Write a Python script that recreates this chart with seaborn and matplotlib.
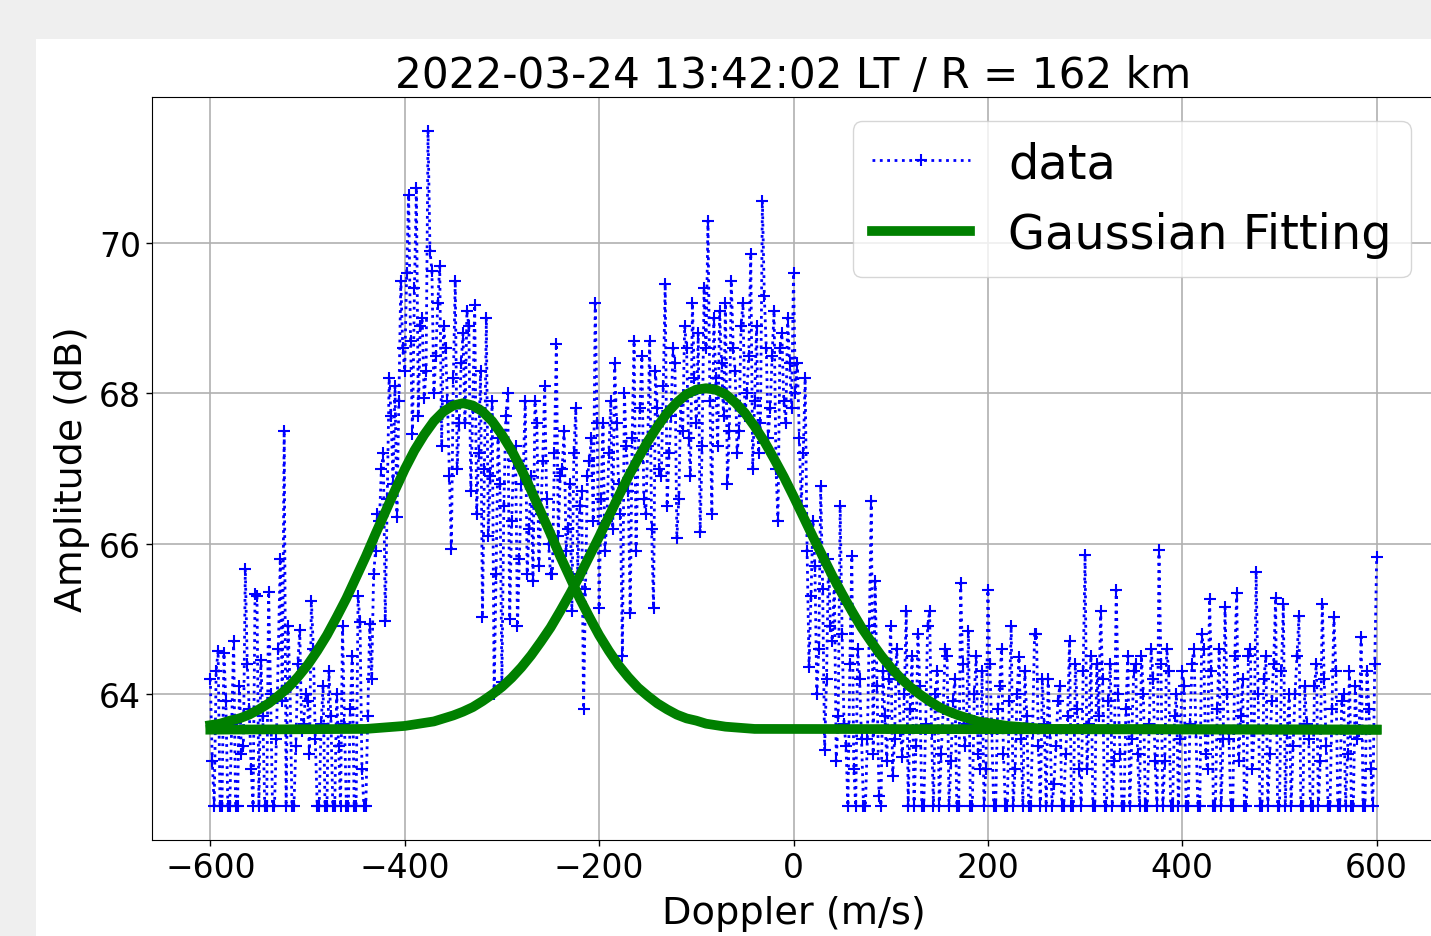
import matplotlib
matplotlib.use("Agg")
import numpy as np
import pandas as pd
import seaborn as sns
import matplotlib.pyplot as plt
from matplotlib.patches import Rectangle


title = "2022-03-24 13:42:02 LT / R = 162 km"

# doppler axis, even samples every 4 m/s ...
doppler_a = list(range(-600, 601, 4))
# ... and the samples in between
doppler_b = list(range(-598, 599, 4))

# amplitude (dB), 25 samples per 100 m/s
amp_a = [
    64.2, 62.5, 64.57, 62.5, 63.9, 62.5, 64.7, 62.5, 63.2, 65.66, 63.8, 62.5, 65.3,
    64.45, 62.5, 65.36, 62.5, 63.4, 65.8, 67.5, 64.9, 62.5, 63.3, 64.85, 63.6,
    63.9, 65.24, 63.4, 62.5, 64.1, 62.5, 63.7, 62.5, 63.3, 64.9, 62.5, 63.8, 62.5,
    65.3, 63.0, 62.5, 64.93, 65.6, 66.4, 67.0, 64.97, 68.2, 66.8, 66.35, 69.5,
    68.3, 70.65, 67.46, 70.74, 68.9, 67.94, 71.5, 69.63, 68.5, 69.7, 68.9, 67.9, 65.93,
    69.5, 67.6, 68.8, 69.1, 66.7, 69.18, 67.2, 65.02, 69.0, 66.9, 64.0, 67.4,
    64.15, 67.7, 65.0, 67.1, 64.9, 66.8, 67.9, 66.2, 65.5, 67.6, 66.4, 68.1, 66.0,
    65.6, 68.66, 66.9, 67.5, 66.2, 65.1, 67.8, 66.5, 63.8, 66.9, 67.4, 69.2,
    65.14, 67.6, 66.3, 67.9, 68.4, 66.8, 64.5, 67.3, 65.07, 68.7, 67.1, 68.5, 66.4,
    68.7, 65.14, 67.8, 66.9, 69.46, 67.2, 68.6, 66.07, 67.9, 68.9, 67.4, 69.2,
    67.6, 66.15, 69.4, 70.3, 66.4, 68.2, 69.1, 67.7, 66.8, 69.5, 68.3, 67.5, 69.2,
    68.0, 69.86, 67.9, 67.2, 70.56, 68.6, 67.8, 69.1, 66.3, 68.8, 67.6, 68.4,
    69.6, 68.4, 66.5, 68.2, 64.36, 66.3, 64.0, 66.77, 63.25, 65.8, 64.7, 63.1, 66.5,
    63.6, 62.5, 65.83, 62.5, 64.2, 62.5, 63.4, 66.57, 65.5, 62.63, 64.3, 63.1,
    64.9, 63.4, 64.2, 63.16, 65.1, 63.8, 62.5, 64.8, 62.5, 63.6, 65.1, 62.5, 64.3,
    63.2, 64.6, 62.5, 63.9, 62.5, 65.47, 63.3, 64.83, 62.5, 64.5, 63.0, 62.5,
    65.38, 63.5, 62.5, 64.1, 63.2, 62.5, 64.9, 63.0, 64.49, 62.5, 63.7, 62.5, 64.8,
    63.3, 64.2, 62.5, 63.5, 62.8, 63.9, 62.5, 63.2, 64.7, 62.5, 63.8, 62.5,
    65.85, 63.6, 62.5, 64.4, 65.1, 62.5, 63.9, 62.5, 65.38, 63.2, 62.5, 64.5, 63.4,
    64.4, 62.5, 64.0, 62.5, 64.6, 63.1, 65.92, 62.5, 64.6, 62.5, 63.7, 62.5,
    64.3, 62.5, 63.6, 64.6, 62.5, 64.8, 63.2, 65.26, 62.5, 63.8, 62.5, 65.15, 63.4,
    62.5, 65.34, 63.7, 62.5, 64.5, 63.0, 65.62, 62.5, 64.2, 62.5, 63.9, 65.27,
    62.5, 65.19, 63.5, 62.5, 64.0, 65.04, 62.5, 63.6, 62.5, 64.1, 62.5, 65.2, 63.3,
    62.5, 65.02, 62.5, 63.9, 62.5, 64.3, 62.5, 63.4, 64.75, 62.5, 63.8, 62.5,
    65.82,
]

amp_b = [
    63.1, 64.3, 62.5, 64.54, 62.5, 63.6, 62.5, 64.1, 63.3, 64.4, 63.0, 65.33, 62.5,
    63.7, 62.5, 64.0, 62.5, 64.6, 63.9, 62.5, 64.1, 62.5, 64.4, 63.5, 64.0,
    63.2, 64.6, 62.5, 63.6, 62.5, 64.3, 62.5, 64.0, 62.5, 63.6, 62.5, 64.5, 62.5,
    64.96, 62.5, 63.7, 64.2, 65.9, 66.3, 67.2, 66.6, 67.7, 68.1, 67.9, 68.6,
    69.6, 68.7, 69.4, 67.7, 69.0, 68.3, 69.9, 68.0, 69.2, 67.3, 68.6, 66.9, 68.2,
    67.0, 68.4, 67.6, 68.9, 67.8, 66.4, 68.3, 67.0, 66.1, 67.9, 65.6, 66.8,
    66.5, 68.0, 66.3, 67.3, 65.8, 67.0, 65.6, 66.9, 67.9, 65.7, 67.1, 66.6, 65.6,
    67.2, 66.1, 67.0, 65.9, 66.8, 67.2, 65.6, 66.7, 65.4, 67.1, 66.3, 67.6,
    66.6, 65.9, 67.2, 66.2, 67.6, 66.4, 68.0, 66.7, 67.4, 65.9, 67.8, 66.6, 67.3,
    66.2, 68.3, 67.0, 68.1, 66.5, 67.7, 68.4, 66.6, 67.5, 68.6, 66.9, 68.2,
    68.8, 67.3, 68.6, 67.9, 69.0, 67.3, 68.4, 69.2, 67.5, 68.6, 67.2, 68.9, 67.7,
    68.5, 67.0, 68.9, 67.6, 69.3, 67.4, 68.5, 67.0, 68.6, 67.9, 69.0, 67.8,
    68.0, 67.4, 67.2, 65.9, 65.3, 65.7, 64.6, 65.4, 64.2, 64.9, 65.5, 63.7, 64.8,
    63.3, 64.4, 63.0, 64.6, 63.4, 62.5, 64.9, 63.2, 64.1, 62.5, 63.7, 64.2,
    62.9, 64.6, 63.5, 64.0, 62.5, 64.5, 63.3, 64.1, 62.5, 64.9, 63.5, 64.0, 62.5,
    63.8, 64.5, 63.1, 64.2, 62.5, 64.4, 63.6, 62.5, 64.0, 63.2, 64.3, 63.0,
    64.4, 62.5, 63.8, 64.6, 62.5, 63.9, 62.5, 64.0, 63.4, 64.3, 62.5, 63.5, 64.8,
    62.5, 63.6, 64.2, 62.5, 63.3, 64.1, 62.5, 63.7, 62.5, 64.4, 63.0, 64.3,
    63.0, 64.5, 62.5, 63.7, 64.2, 62.5, 64.4, 63.1, 64.0, 62.5, 63.8, 62.5, 64.3,
    63.2, 64.5, 62.5, 63.6, 64.2, 62.5, 64.4, 63.1, 64.3, 62.5, 64.0, 63.4,
    64.1, 62.5, 64.4, 63.5, 62.5, 64.6, 63.0, 64.3, 62.5, 64.6, 63.4, 64.0, 62.5,
    64.5, 63.1, 64.2, 62.5, 64.6, 63.5, 64.0, 62.5, 64.5, 63.2, 64.4, 62.5,
    64.3, 62.5, 64.0, 63.3, 64.5, 62.5, 64.1, 63.4, 62.5, 64.4, 63.1, 64.2, 62.5,
    63.8, 64.3, 62.5, 64.0, 63.2, 62.5, 64.1, 63.5, 62.5, 64.3, 63.0, 64.4,
]

# first fitted component (peak near -340 m/s)
fit1_x = list(range(-600, -30, 10)) + [600]
fit1_y = [
    63.58, 63.60, 63.64, 63.67, 63.72, 63.79, 63.87, 63.97, 64.08, 64.22,
    64.38, 64.57, 64.78, 65.02, 65.27, 65.55, 65.83, 66.13, 66.42, 66.71,
    66.99, 67.24, 67.45, 67.63, 67.76, 67.84, 67.87, 67.84, 67.76, 67.63,
    67.45, 67.24, 66.99, 66.71, 66.42, 66.13, 65.83, 65.55, 65.27, 65.02,
    64.78, 64.57, 64.38, 64.22, 64.08, 63.97, 63.87, 63.79, 63.72, 63.67,
    63.64, 63.60, 63.58, 63.56, 63.55, 63.54, 63.53,
    63.52,
]

# second fitted component (peak near -90 m/s)
fit2_x = [-600] + list(range(-440, 261, 10)) + [600]
fit2_y = [
    63.52,
    63.53, 63.54, 63.55, 63.56, 63.57, 63.59, 63.61, 63.63, 63.67, 63.71,
    63.76, 63.82, 63.90, 63.99, 64.09, 64.21, 64.35, 64.51, 64.69, 64.88,
    65.10, 65.33, 65.57, 65.83, 66.09, 66.36, 66.63, 66.89, 67.13, 67.36,
    67.56, 67.74, 67.88, 67.99, 68.05, 68.07, 68.05, 67.99, 67.88, 67.74,
    67.56, 67.36, 67.13, 66.89, 66.63, 66.36, 66.09, 65.83, 65.57, 65.33,
    65.10, 64.88, 64.69, 64.51, 64.35, 64.21, 64.09, 63.99, 63.90, 63.82,
    63.76, 63.71, 63.67, 63.63, 63.61, 63.59, 63.57, 63.56, 63.55, 63.54,
    63.53,
    63.52,
]

df = pd.concat([
    pd.DataFrame({"doppler": doppler_a, "amp": amp_a}),
    pd.DataFrame({"doppler": doppler_b, "amp": amp_b}),
]).sort_values("doppler")
fit1 = pd.DataFrame({"doppler": fit1_x, "amp": fit1_y})
fit2 = pd.DataFrame({"doppler": fit2_x, "amp": fit2_y})

fig = plt.figure(figsize=(14.31, 9.37), dpi=100, facecolor="#efefef")
# white canvas of the (cropped) original figure
fig.patches.append(
    Rectangle((36 / 1431, 0), 1.0, 897 / 937, transform=fig.transFigure,
              facecolor="white", edgecolor="none", zorder=-5)
)
ax = fig.add_axes([152 / 1431, 96 / 937, 1283 / 1431, 743 / 937])
ax.set_zorder(1)

sns.lineplot(data=df, x="doppler", y="amp", ax=ax, color="blue",
             linestyle=":", linewidth=2.0, marker="+", markersize=8.5,
             markeredgewidth=1.5, markeredgecolor="blue", label="data")
sns.lineplot(data=fit1, x="doppler", y="amp", ax=ax, color="green",
             linewidth=7, label="Gaussian Fitting")
sns.lineplot(data=fit2, x="doppler", y="amp", ax=ax, color="green",
             linewidth=7, label="_nolegend_")

ax.set_xlim(-660, 660)
ax.set_ylim(62.05, 71.95)
ax.set_xticks([-600, -400, -200, 0, 200, 400, 600])
ax.set_yticks([64, 66, 68, 70])
ax.grid(True, color="#b0b0b0", linewidth=1.2)
ax.set_axisbelow(True)
ax.tick_params(labelsize=23.8, length=4.5, width=1)

ax.set_title(title, fontsize=30.3, pad=7)
ax.set_xlabel("Doppler (m/s)", fontsize=27.5, labelpad=8)
ax.set_ylabel("Amplitude (dB)", fontsize=27.3, labelpad=6)

ax.legend(loc="upper right", fontsize=34.5, handlelength=2.05)

fig.savefig("out.png", dpi=100, facecolor=fig.get_facecolor())
